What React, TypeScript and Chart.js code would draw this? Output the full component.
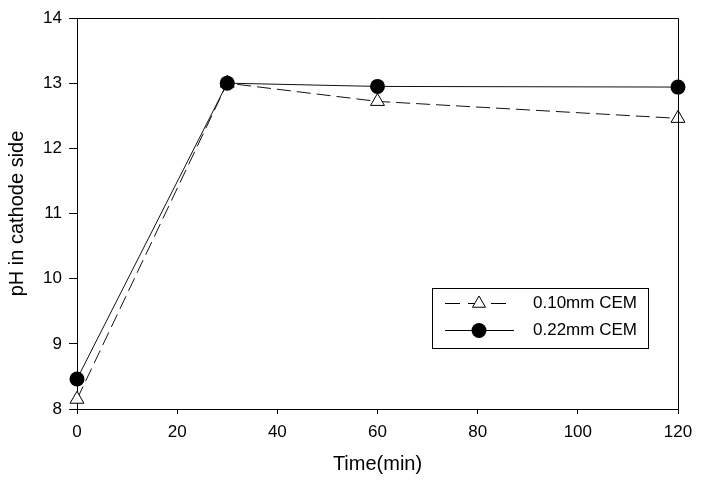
import React, { useEffect, useRef } from "react";
import { Chart, registerables } from "chart.js";

Chart.register(...registerables);

const timeMin = [0, 30, 60, 120];
const ph010 = [8.15, 13.0, 12.72, 12.46];
const ph022 = [8.46, 13.0, 12.95, 12.94];
const xTicks = [0, 20, 40, 60, 80, 100, 120];
const yTicks = [8, 9, 10, 11, 12, 13, 14];
const seriesLabels = ["0.10mm CEM", "0.22mm CEM"];
const xTitle = "Time(min)";
const yTitle = "pH in cathode side";

const FONT = "'Liberation Sans', Arial, sans-serif";

const boxAndLegend = {
  id: "boxAndLegend",
  afterDraw(chart: any) {
    const { ctx, chartArea } = chart;
    const { left, right, top, bottom } = chartArea;
    ctx.save();
    ctx.strokeStyle = "#000";
    ctx.lineWidth = 1;
    ctx.beginPath();
    ctx.moveTo(left, top + 0.5);
    ctx.lineTo(right + 0.5, top + 0.5);
    ctx.lineTo(right + 0.5, bottom);
    ctx.stroke();

    // legend box
    const lx = 432.5, ly = 288.5, lw = 216, lh = 60;
    ctx.fillStyle = "#fff";
    ctx.fillRect(lx, ly, lw, lh);
    ctx.strokeRect(lx, ly, lw, lh);

    const r1 = 303.5, r2 = 330.5;
    // row 1 dashed + triangle
    ctx.setLineDash([15, 8]);
    ctx.beginPath();
    ctx.moveTo(445, r1);
    ctx.lineTo(511, r1);
    ctx.stroke();
    ctx.setLineDash([]);
    const tx = 479, tr = 7.5;
    ctx.beginPath();
    ctx.moveTo(tx, r1 - tr);
    ctx.lineTo(tx + tr * Math.sin((2 * Math.PI) / 3), r1 + tr / 2);
    ctx.lineTo(tx - tr * Math.sin((2 * Math.PI) / 3), r1 + tr / 2);
    ctx.closePath();
    ctx.fillStyle = "#fff";
    ctx.fill();
    ctx.strokeStyle = "#000";
    ctx.stroke();
    // row 2 solid + circle
    ctx.beginPath();
    ctx.moveTo(445, r2);
    ctx.lineTo(514, r2);
    ctx.stroke();
    ctx.beginPath();
    ctx.arc(479, r2, 7.5, 0, Math.PI * 2);
    ctx.fillStyle = "#000";
    ctx.fill();

    ctx.fillStyle = "#000";
    ctx.font = `17px ${FONT}`;
    ctx.textBaseline = "middle";
    ctx.textAlign = "left";
    ctx.fillText(seriesLabels[0], 533, r1);
    ctx.fillText(seriesLabels[1], 533, r2);
    ctx.restore();
  },
};

export default function App() {
  const ref = useRef<HTMLCanvasElement>(null);
  useEffect(() => {
    if (!ref.current) return;
    const chart = new Chart(ref.current, {
      type: "line",
      data: {
        datasets: [
          {
            label: seriesLabels[1],
            data: timeMin.map((t, i) => ({ x: t, y: ph022[i] })),
            borderColor: "#111",
            borderWidth: 1,
            pointStyle: "circle",
            pointRadius: 7.5,
            pointBorderWidth: 0,
            pointBackgroundColor: "#000",
            pointBorderColor: "#000",
            tension: 0,
            clip: false,
          },
          {
            label: seriesLabels[0],
            data: timeMin.map((t, i) => ({ x: t, y: ph010[i] })),
            borderColor: "#111",
            borderWidth: 1,
            borderDash: [14, 6],
            pointStyle: "triangle",
            pointRadius: 8,
            pointBorderWidth: 1,
            pointBackgroundColor: "#fff",
            pointBorderColor: "#000",
            tension: 0,
            clip: false,
          },
        ],
      },
      options: {
        responsive: false,
        animation: false,
        layout: { padding: { left: 0, top: 18, right: 30, bottom: 0 } },
        plugins: {
          legend: { display: false },
          tooltip: { enabled: false },
        },
        scales: {
          x: {
            type: "linear",
            min: 0,
            max: 120,
            afterBuildTicks: (s: any) => {
              s.ticks = xTicks.map((v) => ({ value: v }));
            },
            afterFit: (s: any) => {
              s.height = 74;
            },
            grid: {
              drawOnChartArea: false,
              drawTicks: true,
              tickLength: 5,
              color: "#000",
            },
            border: { display: true, color: "#000", width: 1 },
            ticks: {
              color: "#000",
              font: { family: FONT, size: 17 },
              padding: 8,
              maxRotation: 0,
            },
            title: {
              display: true,
              text: xTitle,
              color: "#000",
              font: { family: FONT, size: 20 },
              padding: { top: 0, bottom: 7 },
            },
          },
          y: {
            type: "linear",
            min: 8,
            max: 14,
            afterBuildTicks: (s: any) => {
              s.ticks = yTicks.map((v) => ({ value: v }));
            },
            afterFit: (s: any) => {
              s.width = 77;
            },
            grid: {
              drawOnChartArea: false,
              drawTicks: true,
              tickLength: 8,
              color: "#000",
            },
            border: { display: true, color: "#000", width: 1 },
            ticks: {
              color: "#000",
              font: { family: FONT, size: 17 },
              padding: 7,
            },
            title: {
              display: true,
              text: yTitle,
              color: "#000",
              font: { family: FONT, size: 20 },
              padding: { top: 5, bottom: 0 },
            },
          },
        },
      },
      plugins: [boxAndLegend],
    });
    return () => chart.destroy();
  }, []);
  return (
    <div style={{ position: "absolute", left: 0, top: 0, width: 708, height: 483, background: "#fff" }}>
      <canvas ref={ref} width={708} height={483} style={{ width: 708, height: 483, display: "block" }} />
    </div>
  );
}
